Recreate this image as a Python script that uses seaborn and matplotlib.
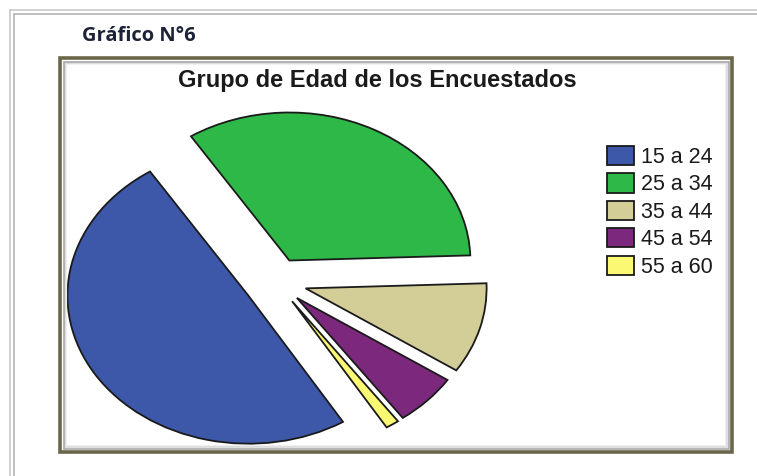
import seaborn as sns
import matplotlib.pyplot as plt
from matplotlib.patches import Rectangle
from matplotlib.lines import Line2D

# data
grupos = ["15 a 24", "25 a 34", "35 a 44", "45 a 54", "55 a 60"]
porcentajes = [49.6, 33.6, 9.9, 5.7, 1.2]
colores = ["#3d57a9", "#2eb848", "#d3ce97", "#7c287d", "#fbf873"]
separacion = [0.18, 0.16, 0.17, 0.16, 0.16]

sns.set_theme(style="white")
plt.rcParams["font.family"] = ["Liberation Sans", "DejaVu Sans"]

W, H = 757, 476
fig = plt.figure(figsize=(W / 100, H / 100), dpi=100)
fig.patch.set_facecolor("white")


def fx(x):
    return x / W


def fy(y):
    return 1 - y / H


# page frame (double gray lines)
for off, c in [(10, "#c8c8c8"), (14, "#b4b4b4")]:
    fig.add_artist(Line2D([fx(off), 1], [fy(off), fy(off)], color=c, lw=1.2,
                          transform=fig.transFigure))
    fig.add_artist(Line2D([fx(off), fx(off)], [fy(off), 0], color=c, lw=1.2,
                          transform=fig.transFigure))

fig.text(fx(82), fy(41), "Gráfico N°6", fontsize=14.5, fontweight="bold",
         color="#1c2337", family=["Open Sans", "DejaVu Sans"], va="baseline")

# chart panel with olive border and soft inner shadow
x0, y0, x1, y1 = 60, 58, 732, 452
for off, c, lw in [(6, "#f0f0f0", 1.5), (5, "#dcdcdc", 1.3), (3.5, "#a8a8a8", 1.2)]:
    fig.add_artist(Rectangle((fx(x0 + off), fy(y1 - off)),
                             fx(x1 - x0 - 2 * off), (y1 - y0 - 2 * off) / H,
                             fill=False, edgecolor=c, lw=lw,
                             transform=fig.transFigure))
fig.add_artist(Rectangle((fx(x0), fy(y1)), fx(x1 - x0), (y1 - y0) / H,
                         fill=False, edgecolor="#6b6649", lw=2.6,
                         transform=fig.transFigure))

fig.text(fx(377), fy(87), "Grupo de Edad de los Encuestados", fontsize=17,
         fontweight="bold", color="#1a1a1a", ha="center", va="baseline")

# pie axes: center at (276, 281.5) px, radius 180 px wide, 148 px tall
cx, cy, rx, ry, lim = 276, 281.5, 181, 148, 1.5
ax = fig.add_axes([fx(cx - lim * rx), (H - cy - lim * ry) / H,
                   2 * lim * rx / W, 2 * lim * ry / H])
wedges, _ = ax.pie(porcentajes, colors=sns.color_palette(colores),
                   explode=separacion, startangle=-58.5, counterclock=False,
                   wedgeprops=dict(edgecolor="#1a1a1a", linewidth=1.3))
ax.set_aspect("auto")
ax.set_xlim(-lim, lim)
ax.set_ylim(-lim, lim)
ax.axis("off")

leg = fig.legend(wedges, grupos, loc="upper left",
                 bbox_to_anchor=(fx(607), fy(146)), frameon=False,
                 fontsize=15.5, handlelength=1.27, handleheight=1.0,
                 handletextpad=0.32, labelspacing=0.25, borderpad=0,
                 borderaxespad=0)
for t in leg.get_texts():
    t.set_color("#1a1a1a")

fig.savefig("out.png", dpi=100)
